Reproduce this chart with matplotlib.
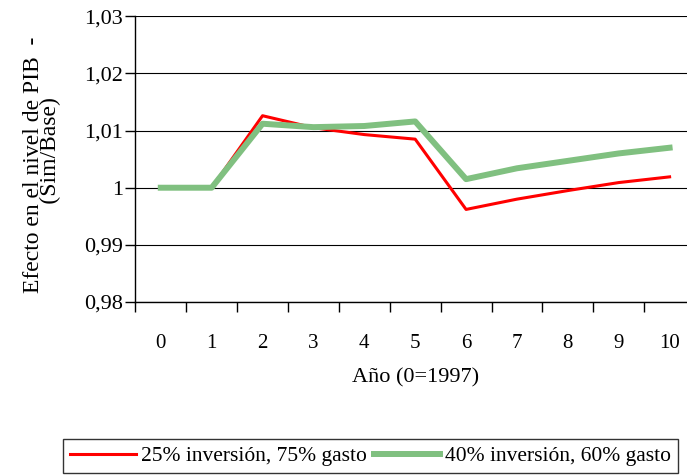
import numpy as np
import matplotlib.pyplot as plt
from matplotlib.ticker import FuncFormatter

plt.rcParams['font.family'] = ['Liberation Serif', 'DejaVu Serif']

# Años desde 1997 y efecto sobre el PIB (Sim/Base)
anios = ['0', '1', '2', '3', '4', '5', '6', '7', '8', '9', '10']
inv25 = [1.0000, 1.0000, 1.0126, 1.0105, 1.0093, 1.0085, 0.9962, 0.9980, 0.9995, 1.0009, 1.0019]
inv40 = [1.0000, 1.0000, 1.0112, 1.0106, 1.0108, 1.0116, 1.0015, 1.0034, 1.0047, 1.0060, 1.0070]
etiquetas = ['25% inversión, 75% gasto', '40% inversión, 60% gasto']

x = np.arange(len(anios))

fig = plt.figure(figsize=(6.87, 4.75), dpi=100)
ax = fig.add_axes([0.197, 0.3642, 0.8147, 0.6015])

ax.plot(x, inv25, color='#ff0000', lw=2.2, label=etiquetas[0], zorder=3)
ax.plot(x, inv40, color='#80c080', lw=4.3, label=etiquetas[1], zorder=4)

ax.set_xlim(-0.5, len(anios) - 0.5)
ax.set_ylim(0.98, 1.03)
ax.set_yticks([0.98, 0.99, 1.00, 1.01, 1.02, 1.03])
ax.yaxis.set_major_formatter(FuncFormatter(lambda v, p: f'{v:g}'.replace('.', ',')))
ax.yaxis.grid(True, color='black', lw=0.8)
ax.set_axisbelow(True)

# etiquetas centradas en cada categoría, marcas entre categorías
ax.set_xticks(x)
ax.set_xticklabels(anios)
ax.set_xticks(np.arange(len(anios) + 1) - 0.5, minor=True)
ax.tick_params(axis='x', which='major', length=0, pad=23, labelsize=15)
ax.tick_params(axis='x', which='minor', length=7, width=1, direction='out')
ax.tick_params(axis='y', length=7, width=1, direction='out', pad=2, labelsize=16)

for s in ['top', 'right']:
    ax.spines[s].set_visible(False)
for s in ['left', 'bottom']:
    ax.spines[s].set_linewidth(1)

ax.set_xlabel('Año (0=1997)', fontsize=16, labelpad=11)

# título del eje y en dos líneas (la segunda algo desplazada hacia arriba)
fig.text(42 / 687, 1 - 165 / 475, 'Efecto en el nivel de PIB  -\n     (Sim/Base)',
         rotation=90, ha='center', va='center', multialignment='center',
         fontsize=17, linespacing=0.8)

leg = fig.legend(loc='lower left', bbox_to_anchor=(63 / 687, 2 / 475), ncol=2,
                 fontsize=15.5, frameon=True, fancybox=False, borderaxespad=0,
                 handlelength=3.06, handletextpad=0.23, columnspacing=0.36, borderpad=0.32)
leg.get_frame().set_edgecolor('black')
leg.get_frame().set_linewidth(1)

fig.savefig('out.png', dpi=100)
